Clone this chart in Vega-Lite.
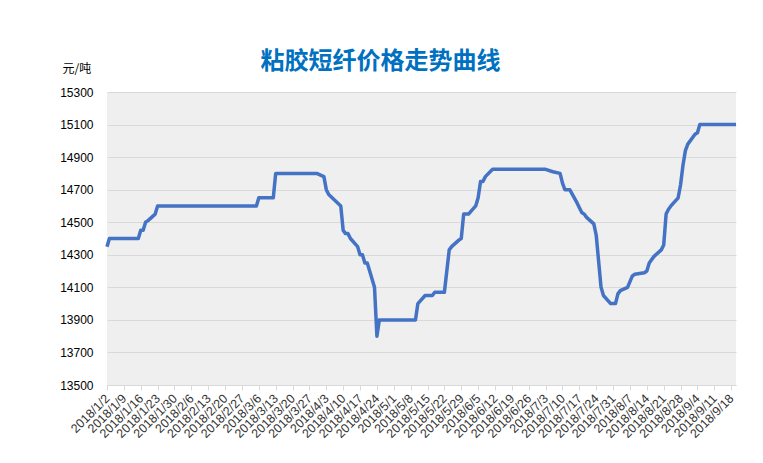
{
  "$schema": "https://vega.github.io/schema/vega-lite/v6.json",
  "width": 629,
  "height": 293,
  "autosize": {"type": "none"},
  "padding": {"left": 107, "top": 92, "right": 27, "bottom": 78},
  "background": "white",
  "config": {
    "view": {"fill": "#efefef", "stroke": null},
    "font": "Noto Sans CJK SC"
  },
  "title": {
    "text": "粘胶短纤价格走势曲线",
    "fontSize": 24,
    "fontWeight": "bold",
    "color": "#0070C0",
    "anchor": "middle",
    "frame": "group",
    "dx": -41,
    "dy": 30,
    "offset": 18,
    "font": "Noto Sans CJK SC"
  },
  "data": {
    "values": [
      {"d": "2018-01-02", "v": 14350},
      {"d": "2018-01-03", "v": 14400},
      {"d": "2018-01-08", "v": 14400},
      {"d": "2018-01-15", "v": 14400},
      {"d": "2018-01-16", "v": 14450},
      {"d": "2018-01-17", "v": 14450},
      {"d": "2018-01-18", "v": 14500},
      {"d": "2018-01-19", "v": 14510},
      {"d": "2018-01-22", "v": 14550},
      {"d": "2018-01-23", "v": 14600},
      {"d": "2018-01-30", "v": 14600},
      {"d": "2018-02-06", "v": 14600},
      {"d": "2018-02-13", "v": 14600},
      {"d": "2018-02-27", "v": 14600},
      {"d": "2018-03-05", "v": 14600},
      {"d": "2018-03-06", "v": 14650},
      {"d": "2018-03-12", "v": 14650},
      {"d": "2018-03-13", "v": 14800},
      {"d": "2018-03-20", "v": 14800},
      {"d": "2018-03-27", "v": 14800},
      {"d": "2018-03-30", "v": 14800},
      {"d": "2018-04-02", "v": 14780},
      {"d": "2018-04-03", "v": 14700},
      {"d": "2018-04-04", "v": 14670},
      {"d": "2018-04-09", "v": 14600},
      {"d": "2018-04-10", "v": 14450},
      {"d": "2018-04-11", "v": 14430},
      {"d": "2018-04-12", "v": 14430},
      {"d": "2018-04-13", "v": 14400},
      {"d": "2018-04-16", "v": 14350},
      {"d": "2018-04-17", "v": 14300},
      {"d": "2018-04-18", "v": 14300},
      {"d": "2018-04-19", "v": 14250},
      {"d": "2018-04-20", "v": 14250},
      {"d": "2018-04-23", "v": 14100},
      {"d": "2018-04-24", "v": 13800},
      {"d": "2018-04-25", "v": 13900},
      {"d": "2018-05-02", "v": 13900},
      {"d": "2018-05-10", "v": 13900},
      {"d": "2018-05-11", "v": 14000},
      {"d": "2018-05-14", "v": 14050},
      {"d": "2018-05-17", "v": 14050},
      {"d": "2018-05-18", "v": 14070},
      {"d": "2018-05-22", "v": 14070},
      {"d": "2018-05-24", "v": 14330},
      {"d": "2018-05-25", "v": 14350},
      {"d": "2018-05-28", "v": 14390},
      {"d": "2018-05-29", "v": 14400},
      {"d": "2018-05-30", "v": 14550},
      {"d": "2018-06-01", "v": 14550},
      {"d": "2018-06-04", "v": 14600},
      {"d": "2018-06-05", "v": 14650},
      {"d": "2018-06-06", "v": 14750},
      {"d": "2018-06-07", "v": 14750},
      {"d": "2018-06-08", "v": 14780},
      {"d": "2018-06-11", "v": 14825},
      {"d": "2018-06-19", "v": 14825},
      {"d": "2018-06-26", "v": 14825},
      {"d": "2018-07-03", "v": 14825},
      {"d": "2018-07-06", "v": 14810},
      {"d": "2018-07-09", "v": 14800},
      {"d": "2018-07-10", "v": 14740},
      {"d": "2018-07-11", "v": 14700},
      {"d": "2018-07-13", "v": 14700},
      {"d": "2018-07-16", "v": 14620},
      {"d": "2018-07-18", "v": 14560},
      {"d": "2018-07-19", "v": 14550},
      {"d": "2018-07-20", "v": 14530},
      {"d": "2018-07-23", "v": 14490},
      {"d": "2018-07-24", "v": 14420},
      {"d": "2018-07-26", "v": 14100},
      {"d": "2018-07-27", "v": 14050},
      {"d": "2018-07-30", "v": 14000},
      {"d": "2018-08-01", "v": 14000},
      {"d": "2018-08-02", "v": 14060},
      {"d": "2018-08-03", "v": 14080},
      {"d": "2018-08-06", "v": 14100},
      {"d": "2018-08-08", "v": 14170},
      {"d": "2018-08-09", "v": 14180},
      {"d": "2018-08-13", "v": 14190},
      {"d": "2018-08-14", "v": 14200},
      {"d": "2018-08-15", "v": 14250},
      {"d": "2018-08-16", "v": 14270},
      {"d": "2018-08-17", "v": 14290},
      {"d": "2018-08-20", "v": 14330},
      {"d": "2018-08-21", "v": 14360},
      {"d": "2018-08-22", "v": 14550},
      {"d": "2018-08-23", "v": 14580},
      {"d": "2018-08-24", "v": 14600},
      {"d": "2018-08-27", "v": 14650},
      {"d": "2018-08-28", "v": 14730},
      {"d": "2018-08-29", "v": 14850},
      {"d": "2018-08-30", "v": 14940},
      {"d": "2018-08-31", "v": 14980},
      {"d": "2018-09-03", "v": 15040},
      {"d": "2018-09-04", "v": 15050},
      {"d": "2018-09-05", "v": 15100},
      {"d": "2018-09-11", "v": 15100},
      {"d": "2018-09-18", "v": 15100},
      {"d": "2018-09-20", "v": 15100}
    ]
  },
  "mark": {"type": "line", "color": "#4472C4", "strokeWidth": 3.5, "strokeJoin": "round"},
  "encoding": {
    "x": {
      "field": "d",
      "type": "temporal",
      "scale": {"domain": [{"year": 2018, "month": 1, "date": 2}, {"year": 2018, "month": 9, "date": 20}]},
      "axis": {
        "title": null,
        "values": [
          {"year": 2018, "month": 1, "date": 2}, {"year": 2018, "month": 1, "date": 9}, {"year": 2018, "month": 1, "date": 16}, {"year": 2018, "month": 1, "date": 23}, {"year": 2018, "month": 1, "date": 30},
          {"year": 2018, "month": 2, "date": 6}, {"year": 2018, "month": 2, "date": 13}, {"year": 2018, "month": 2, "date": 20}, {"year": 2018, "month": 2, "date": 27},
          {"year": 2018, "month": 3, "date": 6}, {"year": 2018, "month": 3, "date": 13}, {"year": 2018, "month": 3, "date": 20}, {"year": 2018, "month": 3, "date": 27},
          {"year": 2018, "month": 4, "date": 3}, {"year": 2018, "month": 4, "date": 10}, {"year": 2018, "month": 4, "date": 17}, {"year": 2018, "month": 4, "date": 24},
          {"year": 2018, "month": 5, "date": 1}, {"year": 2018, "month": 5, "date": 8}, {"year": 2018, "month": 5, "date": 15}, {"year": 2018, "month": 5, "date": 22}, {"year": 2018, "month": 5, "date": 29},
          {"year": 2018, "month": 6, "date": 5}, {"year": 2018, "month": 6, "date": 12}, {"year": 2018, "month": 6, "date": 19}, {"year": 2018, "month": 6, "date": 26},
          {"year": 2018, "month": 7, "date": 3}, {"year": 2018, "month": 7, "date": 10}, {"year": 2018, "month": 7, "date": 17}, {"year": 2018, "month": 7, "date": 24}, {"year": 2018, "month": 7, "date": 31},
          {"year": 2018, "month": 8, "date": 7}, {"year": 2018, "month": 8, "date": 14}, {"year": 2018, "month": 8, "date": 21}, {"year": 2018, "month": 8, "date": 28},
          {"year": 2018, "month": 9, "date": 4}, {"year": 2018, "month": 9, "date": 11}, {"year": 2018, "month": 9, "date": 18}
        ],
        "format": "%Y/%-m/%-d",
        "labelAngle": -45,
        "labelAlign": "right",
        "labelBaseline": "middle",
        "labelFontSize": 12.5,
        "labelColor": "#333333",
        "labelFont": "Liberation Sans",
        "labelOverlap": false,
        "labelPadding": 6,
        "grid": false,
        "domainColor": "#d9d9d9",
        "tickColor": "#d9d9d9",
        "tickSize": 5
      }
    },
    "y": {
      "field": "v",
      "type": "quantitative",
      "scale": {"domain": [13500, 15300], "nice": false, "zero": false},
      "axis": {
        "title": "元/吨",
        "titleAngle": 0,
        "titleX": -45,
        "titleY": -24,
        "titleAlign": "left",
        "titleBaseline": "middle",
        "titleFontSize": 12,
        "titleFontWeight": "normal",
        "titleColor": "#000000",
        "titleFont": "Noto Sans CJK SC",
        "values": [13500, 13700, 13900, 14100, 14300, 14500, 14700, 14900, 15100, 15300],
        "format": "d",
        "labelFontSize": 12,
        "labelColor": "#000000",
        "labelFont": "Liberation Sans",
        "labelPadding": 14,
        "tickSize": 0,
        "domain": false,
        "gridColor": "#d9d9d9",
        "gridWidth": 1
      }
    }
  }
}
